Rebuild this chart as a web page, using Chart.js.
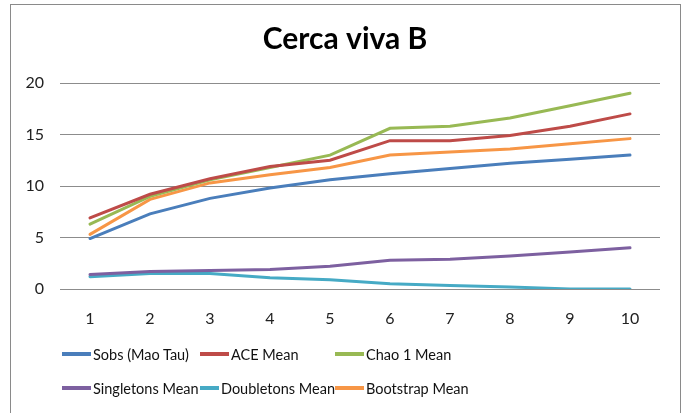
<!DOCTYPE html>
<html lang="en">
<head>
    <meta charset="UTF-8">
    <title>Cerca viva B</title>
    <script src="https://cdn.jsdelivr.net/npm/chart.js@4.4.0/dist/chart.umd.min.js"></script>
    <style>
        body {
            margin: 0;
            background: #ffffff;
            font-family: Lato, "DejaVu Sans Condensed", sans-serif;
        }
        .frame {
            position: absolute;
            left: 10px;
            top: 4px;
            width: 669px;
            height: 420px;
            border: 1.5px solid #8a8a8a;
        }
        .chart-box {
            position: absolute;
            left: 0;
            top: 0;
            width: 687px;
            height: 413px;
        }
        .legend {
            position: absolute;
            left: 62px;
            top: 343px;
            display: grid;
            grid-template-columns: 138px 135px 170px;
            row-gap: 12px;
            font-size: 14.5px;
            color: #111;
        }
        .legend span {
            display: flex;
            align-items: center;
            height: 22px;
            white-space: nowrap;
        }
        .legend i {
            display: inline-block;
            width: 29px;
            height: 4px;
            margin-right: 2px;
        }
    </style>
</head>
<body>
    <div class="frame"></div>
    <div class="chart-box">
        <canvas id="chart" width="687" height="413"></canvas>
    </div>
    <div class="legend" id="legend"></div>

    <script>
        const categories = ['1', '2', '3', '4', '5', '6', '7', '8', '9', '10'];

        const sobs       = [4.9, 7.3, 8.8, 9.8, 10.6, 11.2, 11.7, 12.2, 12.6, 13.0];
        const aceMean    = [6.9, 9.2, 10.7, 11.9, 12.5, 14.4, 14.4, 14.9, 15.8, 17.0];
        const chao1Mean  = [6.3, 9.0, 10.6, 11.8, 13.0, 15.6, 15.8, 16.6, 17.8, 19.0];
        const singletons = [1.4, 1.7, 1.8, 1.9, 2.2, 2.8, 2.9, 3.2, 3.6, 4.0];
        const doubletons = [1.2, 1.5, 1.5, 1.1, 0.9, 0.5, 0.35, 0.2, 0.0, 0.0];
        const bootstrap  = [5.3, 8.7, 10.3, 11.1, 11.8, 13.0, 13.3, 13.6, 14.1, 14.6];

        const yTicks = [0, 5, 10, 15, 20];

        const series = [
            { label: 'Sobs (Mao Tau)', data: sobs, color: '#4a7ebb' },
            { label: 'ACE Mean', data: aceMean, color: '#be4b48' },
            { label: 'Chao 1 Mean', data: chao1Mean, color: '#98b954' },
            { label: 'Singletons Mean', data: singletons, color: '#7d60a0' },
            { label: 'Doubletons Mean', data: doubletons, color: '#46aac5' },
            { label: 'Bootstrap Mean', data: bootstrap, color: '#f79646' }
        ];

        const fontFamily = 'Lato, "DejaVu Sans Condensed", sans-serif';

        new Chart(document.getElementById('chart'), {
            type: 'line',
            data: {
                labels: categories,
                datasets: series.map(s => ({
                    label: s.label,
                    data: s.data,
                    borderColor: s.color,
                    backgroundColor: s.color,
                    borderWidth: 3,
                    pointRadius: 0,
                    tension: 0,
                    borderCapStyle: 'round'
                }))
            },
            options: {
                responsive: false,
                animation: false,
                layout: {
                    // title is centred on 345 like the original
                    padding: { left: 20, right: 17, top: 0, bottom: 84 }
                },
                plugins: {
                    legend: { display: false },
                    tooltip: { enabled: false },
                    title: {
                        display: true,
                        text: 'Cerca viva B',
                        color: '#000000',
                        font: { family: fontFamily, size: 30, weight: 'bold', lineHeight: 1.2 },
                        padding: { top: 21, bottom: 26 }
                    }
                },
                scales: {
                    x: {
                        offset: true,
                        grid: { display: false },
                        border: { display: false },
                        afterFit: scale => { scale.height = 40; },
                        ticks: {
                            color: '#222',
                            padding: 12,
                            font: { family: fontFamily, size: 16 }
                        }
                    },
                    y: {
                        min: 0,
                        max: 20,
                        afterBuildTicks: scale => {
                            scale.ticks = yTicks.map(v => ({ value: v }));
                        },
                        grid: {
                            color: '#8c8c8c',
                            lineWidth: 1,
                            drawTicks: false
                        },
                        border: { display: false },
                        ticks: {
                            color: '#222',
                            padding: 16,
                            font: { family: fontFamily, size: 16 }
                        },
                        afterFit: scale => { scale.width = 40; }
                    },
                    // empty spacer so the plot stops at 660
                    spacer: {
                        axis: 'y',
                        position: 'right',
                        grid: { display: false },
                        border: { display: false },
                        ticks: { display: false },
                        afterFit: scale => { scale.width = 10; }
                    }
                }
            }
        });

        const legend = document.getElementById('legend');
        series.forEach(s => {
            const item = document.createElement('span');
            item.innerHTML = '<i style="background:' + s.color + '"></i>' + s.label;
            legend.appendChild(item);
        });
    </script>
</body>
</html>
